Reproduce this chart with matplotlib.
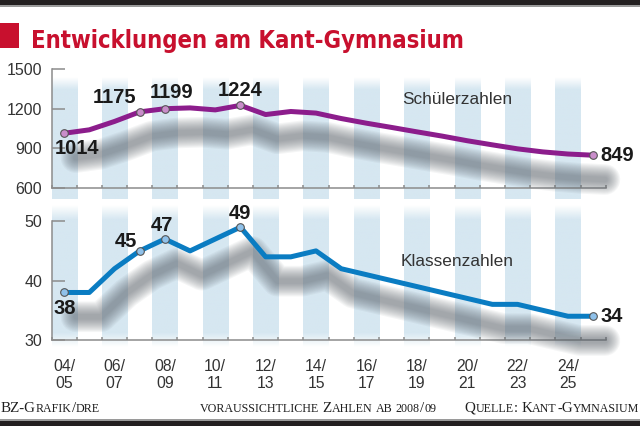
import numpy as np
import matplotlib
matplotlib.use('Agg')
import matplotlib.pyplot as plt
import matplotlib.patheffects as pe
from matplotlib.patches import Rectangle
from matplotlib.colors import to_rgb

# school years 04/05 ... 25/26
years = ['%02d/%02d' % (y, y + 1) for y in range(4, 26)]
schueler = [1014, 1040, 1103, 1175, 1199, 1205, 1190, 1224, 1155, 1178, 1166,
            1125, 1090, 1058, 1025, 993, 958, 927, 897, 874, 858, 849]
klassen = [38, 38, 42, 45, 47, 45, 47, 49, 44, 44, 45,
           42, 41, 40, 39, 38, 37, 36, 36, 35, 34, 34]
marked = [0, 3, 4, 7, 21]

RED = '#c8102e'
PURPLE = '#8c1d8c'
BLUE = '#0a7cc2'
STRIPE = '#d6e7f1'
GRAY = '#8c8c8c'
TXT = '#333333'
W, H = 640, 426


def fx(px):
    return px / W


def fy(py):
    return 1 - py / H


fig = plt.figure(figsize=(6.4, 4.26), dpi=100)
x = np.arange(len(years))

ax1 = fig.add_axes([fx(51.5), fy(188.3), fx(605.7) - fx(51.5), fy(68.7) - fy(188.3)])
ax2 = fig.add_axes([fx(51.5), fy(340), fx(605.7) - fx(51.5), fy(221.2) - fy(340)])


def stripes(ax, y0, y1, fade_top, fade_bot):
    n = 200
    prof = np.ones(n)
    t = np.linspace(0, 1, n)
    if fade_top:
        prof = np.minimum(prof, np.clip(t / fade_top, 0, 1))
    if fade_bot:
        prof = np.minimum(prof, np.clip((1 - t) / fade_bot, 0, 1))
    img = np.ones((n, 1, 4))
    img[..., :3] = to_rgb(STRIPE)
    img[:, 0, 3] = prof
    for k in range(0, len(years), 2):
        im = ax.imshow(img, extent=(k - 0.5, k + 0.5, y0, y1), aspect='auto',
                       origin='upper', zorder=0, interpolation='bilinear')
        im.set_clip_on(False)


def shadow_effects():
    effs = []
    for w in np.linspace(22, 4, 12):
        effs.append(pe.SimpleLineShadow(offset=(8.5, -17.5), shadow_color='#5c646c',
                                        alpha=0.062, linewidth=w, capstyle='round'))
    effs.append(pe.Normal())
    return effs


def panel(ax, vals, color, mfc, ylim, yticks, ylo, yhi, fade_bot):
    stripes(ax, ylo, yhi, 0.1, fade_bot)
    ln, = ax.plot(x, vals, color=color, lw=3.6, solid_joinstyle='round',
                  solid_capstyle='round', zorder=3)
    ln.set_path_effects(shadow_effects())
    ln.set_clip_on(False)
    ax.plot(x[marked], np.array(vals)[marked], 'o', ms=5.5, mfc=mfc, mec='#555555',
            mew=0.8, zorder=4, clip_on=False)
    ax.set_xlim(-0.5, len(years) - 0.5)
    ax.set_ylim(*ylim)
    ax.set_yticks(yticks)
    ax.set_yticklabels([str(v) for v in yticks])
    ax.set_xticks(np.arange(-0.5, len(years), 1))
    ax.set_xticklabels([])
    ax.set_xticks(np.arange(0, len(years), 2), minor=True)
    ax.tick_params(axis='y', direction='in', length=9.5, width=1.1, color=GRAY,
                   labelsize=11.5, labelcolor=TXT, pad=6.6)
    ax.tick_params(axis='x', which='major', direction='in', length=2.3, width=1.1, color=GRAY)
    ax.tick_params(axis='x', which='minor', length=0, labelsize=11.3, labelcolor=TXT, pad=14)
    for s in ['top', 'right']:
        ax.spines[s].set_visible(False)
    for s in ['left', 'bottom']:
        ax.spines[s].set_color(GRAY)
        ax.spines[s].set_linewidth(1.1)
        ax.spines[s].set_zorder(2)
    ax.set_facecolor('none')
    for lab in ax.get_yticklabels() + ax.get_xticklabels(minor=True):
        lab.set_fontfamily('Liberation Sans')


panel(ax1, schueler, PURPLE, '#c98dca', (600, 1500), [600, 900, 1200, 1500],
      519, 1433, 0)
panel(ax2, klassen, BLUE, '#8fc1ea', (30, 50), [30, 40, 50], 28.8, 52.7, 0.1)
ax1.set_xticklabels([], minor=True)
ax2.set_xticklabels([y.replace('/', '/\n') for y in years[::2]], minor=True,
                    linespacing=1.15)

lab_kw = dict(textcoords='offset points', fontsize=14.5, fontweight='bold',
              color='#1a1a1a', family='Liberation Sans', va='center', zorder=6)
top_off = {0: (9.6, -11.3, 'center'), 3: (-17.8, 10.4, 'center'),
           4: (5.1, 11.4, 'center'), 7: (0, 10.6, 'center'), 21: (5, 0, 'left')}
bot_off = {0: (0.6, -11.5, 'center'), 3: (-9.6, 6.7, 'center'),
           4: (-2, 10, 'center'), 7: (0, 9.8, 'center'), 21: (5, 0, 'left')}
for i, (dx, dy, ha) in top_off.items():
    ax1.annotate(str(schueler[i]), (x[i], schueler[i]), xytext=(dx, dy), ha=ha, **lab_kw)
for i, (dx, dy, ha) in bot_off.items():
    ax2.annotate(str(klassen[i]), (x[i], klassen[i]), xytext=(dx, dy), ha=ha, **lab_kw)

fig.text(fx(457), fy(99.3), 'Schülerzahlen', fontsize=12.4, color=TXT,
         family='Liberation Sans', ha='center', va='center')
fig.text(fx(457), fy(261), 'Klassenzahlen', fontsize=12.4, color=TXT,
         family='Liberation Sans', ha='center', va='center')

# header / footer bands
fig.add_artist(Rectangle((0, fy(5)), 1, fy(0) - fy(5), transform=fig.transFigure,
                         color='#231f20', lw=0))
fig.add_artist(Rectangle((0, fy(6.5)), 1, fy(5) - fy(6.5), transform=fig.transFigure,
                         color='#9a9a9a', lw=0))
fig.add_artist(Rectangle((0, 0), 1, fy(420.5), transform=fig.transFigure,
                         color='#231f20', lw=0))
fig.add_artist(Rectangle((0, fy(420.5)), 1, fy(419.3) - fy(420.5), transform=fig.transFigure,
                         color='#9a9a9a', lw=0))
fig.add_artist(Rectangle((0, fy(48)), fx(18.5), fy(23) - fy(48), transform=fig.transFigure,
                         color=RED, lw=0))

renderer = fig.canvas.get_renderer()
title = fig.text(fx(31), fy(48), 'Entwicklungen am Kant-Gymnasium', fontsize=24,
                 fontweight='bold', fontstretch='condensed', family='DejaVu Sans',
                 color=RED, va='baseline')
# fit the title to its width in the reference (31 .. 465 px)
tw = title.get_window_extent(renderer).width
title.set_fontsize(24 * 434 / tw)


def smallcaps(xpx, ypx, s, size, ha='left'):
    runs = []
    for ch in s:
        kind = 'sp' if ch == ' ' else ('s' if (ch.islower() or ch.isdigit()) else 'c')
        if runs and runs[-1][1] == kind and kind != 'sp':
            runs[-1][0] += ch.upper()
        else:
            runs.append([ch.upper(), kind])
    items = []
    for txt, kind in runs:
        if kind == 'sp':
            items.append((None, size * 0.22 * 100 / 72))
            continue
        t = fig.text(0, fy(ypx), txt, fontsize=size * (0.8 if kind == 's' else 1),
                     family='Liberation Serif', color='#1e1e1e', va='baseline')
        items.append((t, t.get_window_extent(renderer).width + 0.05))
    total = sum(w for _, w in items)
    pos = xpx - {'left': 0, 'center': total / 2, 'right': total}[ha]
    for t, w in items:
        if t is not None:
            t.set_x(fx(pos))
        pos += w


smallcaps(1, 412, 'BZ-Grafik/dre', 10.8)
smallcaps(318, 412, 'voraussichtliche Zahlen ab 2008/09', 10.8, 'center')
smallcaps(639, 412, 'Quelle: Kant-Gymnasium', 10.8, 'right')

fig.savefig('out.png', dpi=100)
